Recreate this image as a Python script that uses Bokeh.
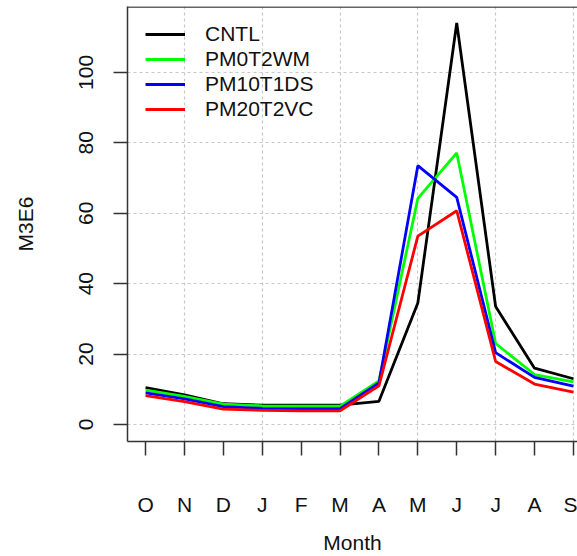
from bokeh.plotting import figure
from bokeh.models import Range1d, FixedTicker, Span, Legend, LegendItem
from bokeh.embed import file_html
from bokeh.resources import INLINE

months = ["O", "N", "D", "J", "F", "M", "A", "M", "J", "J", "A", "S"]
month_idx = list(range(1, 13))

cntl = [10.5, 8.4, 5.9, 5.5, 5.5, 5.5, 6.6, 34.5, 114.0, 33.5, 16.0, 13.0]
pm0t2wm = [9.8, 8.0, 5.8, 5.3, 5.2, 5.2, 12.4, 64.2, 77.1, 23.0, 14.2, 12.1]
pm10t1ds = [9.0, 7.3, 5.1, 4.6, 4.5, 4.5, 11.8, 73.5, 64.5, 20.4, 13.4, 10.9]
pm20t2vc = [8.2, 6.5, 4.4, 4.0, 3.9, 3.9, 11.0, 53.5, 60.7, 17.9, 11.5, 9.2]

series = [
    ("CNTL", cntl, "#000000"),
    ("PM0T2WM", pm0t2wm, "#00FF00"),
    ("PM10T1DS", pm10t1ds, "#0000FF"),
    ("PM20T2VC", pm20t2vc, "#FF0000"),
]

y_ticks = [0, 20, 40, 60, 80, 100]
x_grid = [2, 4, 6, 8, 10, 12]

FONT = "Liberation Sans"
FS = "21px"

p = figure(width=577, height=556, output_backend="svg", toolbar_location=None,
           x_range=Range1d(0.535, 12.105), y_range=Range1d(-4.82, 118.7),
           min_border_left=127, min_border_right=0, min_border_top=6,
           min_border_bottom=114)
p.outline_line_color = None
p.background_fill_color = "white"

# grid
p.xgrid.ticker = FixedTicker(ticks=x_grid)
p.ygrid.ticker = FixedTicker(ticks=y_ticks)
for g in (p.xgrid, p.ygrid):
    g.grid_line_color = "#C8C8C8"
    g.grid_line_dash = "3 3"
    g.grid_line_width = 1.2

# axes
p.xaxis.ticker = FixedTicker(ticks=month_idx)
p.xaxis.major_label_overrides = {i: m for i, m in zip(month_idx, months)}
p.yaxis.ticker = FixedTicker(ticks=y_ticks)
p.yaxis.major_label_orientation = "vertical"
for ax in (p.xaxis, p.yaxis):
    ax.axis_line_color = "#333333"
    ax.axis_line_width = 1.5
    ax.major_tick_line_color = "#333333"
    ax.major_tick_line_width = 1.5
    ax.major_tick_in = 0
    ax.major_tick_out = 14
    ax.minor_tick_line_color = None
    ax.major_label_text_font = FONT
    ax.major_label_text_font_size = FS
    ax.major_label_text_color = "#111111"
    ax.axis_label_text_font = FONT
    ax.axis_label_text_font_size = FS
    ax.axis_label_text_font_style = "normal"
    ax.axis_label_text_color = "#111111"
p.xaxis.major_label_standoff = 37
p.xaxis.axis_label = "Month"
p.xaxis.axis_label_standoff = 12
p.yaxis.major_label_standoff = 20
p.yaxis.axis_label = "M3E6"
p.yaxis.axis_label_standoff = 40

# top border
p.add_layout(Span(location=118.55, dimension="width", line_color="#333333", line_width=1.5))

items = []
for name, vals, col in series:
    r = p.line(month_idx, vals, line_color=col, line_width=2.8)
    items.append(LegendItem(label=name, renderers=[r]))

legend = Legend(items=items, location=(18, 320), orientation="vertical",
                border_line_color=None, background_fill_alpha=0,
                glyph_width=40, glyph_height=20, label_standoff=20,
                label_text_font=FONT, label_text_font_size=FS,
                label_text_color="#111111", spacing=1, padding=0, margin=0)
p.add_layout(legend)

open("out.html", "w").write(file_html(p, INLINE))
